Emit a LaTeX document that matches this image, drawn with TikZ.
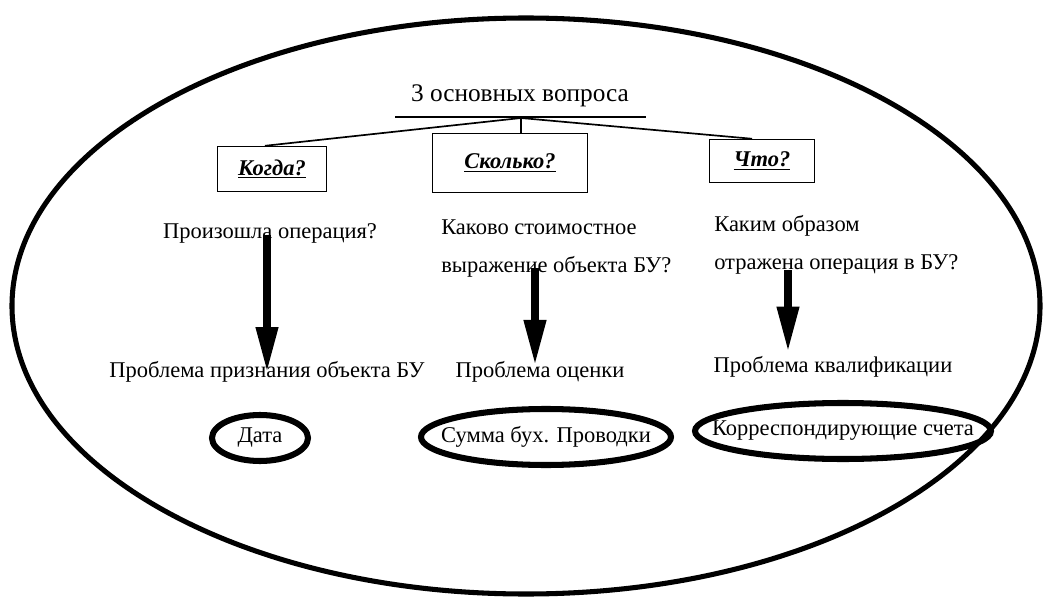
\documentclass[tikz,border=0pt]{standalone}
\usepackage{fontspec}
\setmainfont{Liberation Serif}
\usetikzlibrary{arrows.meta, calc}

\begin{document}
\begin{tikzpicture}[x=0.025cm, y=-0.025cm,
  txt/.style={inner sep=0pt, font=\fontsize{16}{27}\selectfont},
  qbox/.style={draw, line width=1pt, inner sep=0pt, font=\fontsize{16}{19}\selectfont\bfseries\itshape},
  bigarrow/.style={line width=5pt, -{Triangle[length=32pt, width=15pt]}},
  oval/.style={line width=4.3pt},
  fork/.style={line width=1.2pt}]
\useasboundingbox (0,0) rectangle (1048,604);
% Draw outer ellipse
\draw[line width=3.6pt] (526,306) ellipse [x radius=514, y radius=288];
% Title and its line
\node[txt, font=\fontsize{18}{22}\selectfont, anchor=base] (title) at (520,102) {3 основных вопроса};
\draw[fork] ($(title.base)+(-125,15)$) -- ($(title.base)+(126,15)$);
\coordinate (fork) at ($(title.base)+(1,16)$);
% Three question boxes
\node[qbox, minimum width=77.5pt, minimum height=32pt] (when) at (272,169) {\underline{Когда?}};
\node[qbox, minimum width=110.2pt, minimum height=42pt] (howmuch) at (510,163) {\underline{Сколько?}};
\node[qbox, minimum width=74.7pt, minimum height=30.6pt] (what) at (762,161) {\underline{Что?}};
% Fork lines to the boxes
\draw[fork] (fork) -- ([xshift=-5]when.north);
\draw[fork] (fork) -- (fork |- howmuch.north);
\draw[fork] (fork) -- ([xshift=-7]what.north);
% Questions
\node[txt] (q1) at (270,233) {Произошла операция?};
\node[txt, align=left, anchor=west] (q2) at (441,249) {Каково стоимостное\\выражение объекта БУ?};
\node[txt, align=left, anchor=west] (q3) at (714,245) {Каким образом\\отражена операция в БУ?};
% Problems
\node[txt] (p1) at (267,372) {Проблема признания объекта БУ};
\node[txt] (p2) at (540,372) {Проблема оценки};
\node[txt] (p3) at (833,367) {Проблема квалификации};
% Columns of the arrows
\coordinate (col1) at (267,0);
\coordinate (col2) at (535,0);
\coordinate (col3) at (788,0);
\draw[bigarrow] ([yshift=6]q1.south -| col1) -- ([yshift=0]p1.center -| col1);
\draw[bigarrow] ([yshift=7]q2.south -| col2) -- ([yshift=5]p2.center -| col2);
\draw[bigarrow] ([yshift=3]q3.south -| col3) -- ([yshift=11]p3.center -| col3);
% Answers in ovals
\node[txt] (date) at (260,438) {Дата};
\draw[oval] (date.center) ellipse [x radius=48, y radius=23];
\node[txt] (sum) at (546,437) {Сумма бух. Проводки};
\draw[oval] (sum.center) ellipse [x radius=125, y radius=28];
\node[txt] (accounts) at (843,431) {Корреспондирующие счета};
\draw[oval] (accounts.center) ellipse [x radius=148, y radius=28];
\end{tikzpicture}
\end{document}
